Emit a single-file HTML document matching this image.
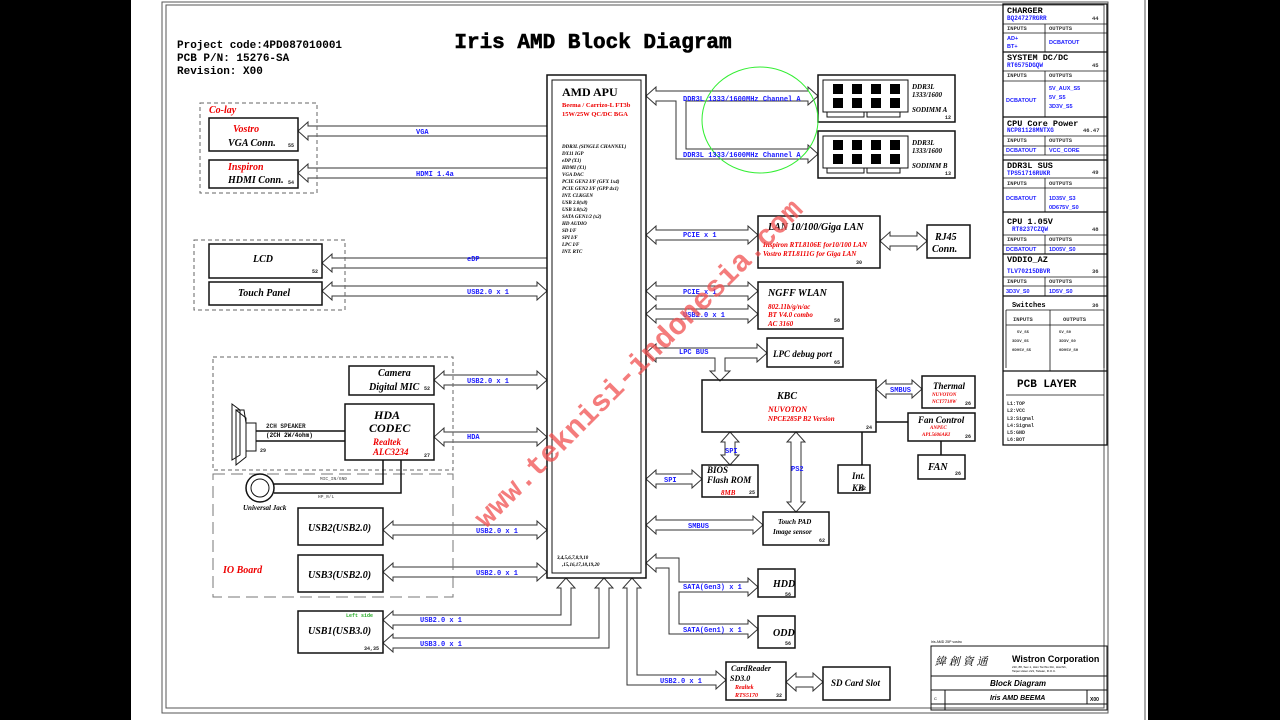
<!DOCTYPE html>
<html><head><meta charset="utf-8"><style>
html,body{margin:0;padding:0;background:#000;}
svg{display:block}
.m{font-family:"Liberation Mono",monospace;font-weight:bold}
.s{font-family:"Liberation Serif",serif;font-weight:bold;font-style:italic}
.b{fill:#1a1aff}
.r{fill:#e00}
</style></head><body>
<svg id="sv" width="1280" height="720" viewBox="0 0 1280 720" xmlns="http://www.w3.org/2000/svg">
<rect x="131" y="0" width="1017" height="720" fill="#fff"/>
<g fill="none" stroke="#555" stroke-width="1">
<rect x="162" y="2" width="946" height="711"/>
<rect x="166" y="5" width="938" height="703"/>
<line x1="1145" y1="0" x2="1145" y2="720"/>
</g>
<g id="arrows" fill="#fff" stroke="#333" stroke-width="1"></g>
<g fill="none" stroke="#111" stroke-width="1.5">
<rect x="547" y="75" width="99" height="503"/>
<rect x="552" y="80" width="89" height="493" stroke-width="1"/>
<rect x="209" y="118" width="89" height="33"/>
<rect x="209" y="160" width="89" height="28"/>
<rect x="209" y="244" width="113" height="34"/>
<rect x="209" y="282" width="113" height="23"/>
<rect x="349" y="366" width="85" height="29"/>
<rect x="345" y="404" width="89" height="56"/>
<rect x="298" y="508" width="85" height="37"/>
<rect x="298" y="555" width="85" height="37"/>
<rect x="298" y="611" width="85" height="42"/>
<rect x="818" y="75" width="137" height="47"/>
<rect x="818" y="131" width="137" height="47"/>
<rect x="758" y="216" width="122" height="52"/>
<rect x="927" y="225" width="43" height="33"/>
<rect x="758" y="282" width="85" height="47"/>
<rect x="767" y="338" width="76" height="29"/>
<rect x="702" y="380" width="174" height="52"/>
<rect x="922" y="376" width="53" height="32"/>
<rect x="908" y="413" width="67" height="28"/>
<rect x="918" y="455" width="47" height="24"/>
<rect x="838" y="465" width="32" height="28"/>
<rect x="702" y="465" width="56" height="32"/>
<rect x="763" y="512" width="66" height="33"/>
<rect x="758" y="569" width="37" height="28"/>
<rect x="758" y="616" width="37" height="32"/>
<rect x="726" y="662" width="60" height="38"/>
<rect x="823" y="667" width="67" height="33"/>
</g>
<g fill="none" stroke="#666" stroke-width="1" stroke-dasharray="4,3">
<rect x="200" y="103" width="117" height="90"/>
<rect x="194" y="240" width="151" height="70"/>
<rect x="213" y="357" width="240" height="113"/>
</g>
<rect x="213" y="474" width="240" height="123" fill="none" stroke="#777" stroke-dasharray="12,6"/>
<g stroke="#111" stroke-width="1.5" fill="none">
<polyline points="256,431 345,431"/><polyline points="256,441 345,441"/>
<polyline points="274,484 383,484 383,460"/><polyline points="274,493 401,493 401,460"/>
<line x1="876" y1="422" x2="908" y2="422"/><line x1="941" y1="441" x2="941" y2="455"/>
<line x1="862" y1="432" x2="862" y2="465"/>
<circle cx="260" cy="488" r="14"/><circle cx="260" cy="488" r="9" stroke-width="1"/>
<polygon points="232,404 240,410 240,455 232,460" stroke-width="1"/>
<polygon points="236,410 246,418 246,457 236,465" stroke-width="1"/>
<rect x="246" y="423" width="10" height="28" stroke-width="1"/>
<polyline points="236,410 244,410 246,423" stroke-width="1"/>
</g>
<g id="chips" fill="#000"></g>
<ellipse cx="760" cy="120" rx="58" ry="53" fill="none" stroke="#3e3" stroke-width="1"/>
<text x="593" y="48" text-anchor="middle" class="m" font-size="21" stroke="#000" stroke-width="0.6">Iris AMD Block Diagram</text>
<text x="177" y="48" class="m" font-size="11">Project code:4PD087010001</text>
<text x="177" y="61" class="m" font-size="11">PCB P/N: 15276-SA</text>
<text x="177" y="74" class="m" font-size="11">Revision: X00</text>
<text x="562" y="96" font-family="Liberation Serif" font-weight="bold" font-size="12">AMD APU</text>
<text x="562" y="107" font-family="Liberation Serif" font-weight="bold" font-size="6.5" class="r">Beema / Carrizo-L FT3b</text>
<text x="562" y="116" font-family="Liberation Serif" font-weight="bold" font-size="6.5" class="r">15W/25W QC/DC BGA</text>
<g class="s" font-size="5">
<text x="562" y="148">DDR3L (SINGLE CHANNEL)</text><text x="562" y="155">DX11 IGP</text><text x="562" y="162">eDP (X1)</text><text x="562" y="169">HDMI (X1)</text><text x="562" y="176">VGA DAC</text><text x="562" y="183">PCIE GEN2 I/F (GFX 1x4)</text><text x="562" y="190">PCIE GEN2 I/F (GPP 4x1)</text><text x="562" y="197">INT. CLKGEN</text><text x="562" y="204">USB 2.0(x8)</text><text x="562" y="211">USB 3.0(x2)</text><text x="562" y="218">SATA GEN1/2 (x2)</text><text x="562" y="225">HD AUDIO</text><text x="562" y="232">SD I/F</text><text x="562" y="239">SPI I/F</text><text x="562" y="246">LPC I/F</text><text x="562" y="253">INT. RTC</text>
<text x="557" y="559">3,4,5,6,7,8,9,10</text><text x="562" y="566">,15,16,17,18,19,20</text>
</g>
<g class="s" font-size="10">
<text x="209" y="113" class="r">Co-lay</text>
<text x="233" y="132" class="r">Vostro</text><text x="228" y="146">VGA Conn.</text>
<text x="228" y="170" class="r">Inspiron</text><text x="228" y="183">HDMI Conn.</text>
<text x="253" y="262">LCD</text><text x="238" y="296">Touch Panel</text>
<text x="378" y="376">Camera</text><text x="369" y="390">Digital MIC</text>
<text x="374" y="419" font-size="12">HDA</text><text x="369" y="432" font-size="12">CODEC</text>
<text x="373" y="445" font-size="9" class="r">Realtek</text><text x="373" y="455" font-size="9" class="r">ALC3234</text>
<text x="223" y="573" class="r">IO Board</text>
<text x="308" y="531">USB2(USB2.0)</text><text x="308" y="578">USB3(USB2.0)</text><text x="308" y="634">USB1(USB3.0)</text>
<text x="243" y="510" font-size="7">Universal Jack</text>
<text x="912" y="89" font-size="7">DDR3L</text><text x="912" y="97" font-size="7">1333/1600</text><text x="912" y="112" font-size="7">SODIMM A</text>
<text x="912" y="145" font-size="7">DDR3L</text><text x="912" y="153" font-size="7">1333/1600</text><text x="912" y="168" font-size="7">SODIMM B</text>
<text x="768" y="230">LAN 10/100/Giga LAN</text>
<text x="763" y="247" font-size="7" class="r">Inspiron RTL8106E for10/100 LAN</text>
<text x="763" y="256" font-size="7" class="r">Vostro RTL8111G for Giga LAN</text>
<text x="935" y="240">RJ45</text><text x="932" y="252">Conn.</text>
<text x="768" y="296">NGFF WLAN</text>
<text x="768" y="309" font-size="7" class="r">802.11b/g/n/ac</text><text x="768" y="317" font-size="7" class="r">BT V4.0 combo</text><text x="768" y="326" font-size="7" class="r">AC 3160</text>
<text x="773" y="357" font-size="9">LPC debug port</text>
<text x="777" y="399">KBC</text>
<text x="768" y="412" font-size="8" class="r">NUVOTON</text><text x="768" y="421" font-size="7" class="r">NPCE285P B2 Version</text>
<text x="933" y="389" font-size="9">Thermal</text>
<text x="932" y="396" font-size="5" class="r">NUVOTON</text><text x="932" y="403" font-size="5" class="r">NCT7718W</text>
<text x="918" y="423" font-size="9">Fan Control</text>
<text x="930" y="429" font-size="5" class="r">ANPEC</text><text x="922" y="436" font-size="5" class="r">APL5606AKI</text>
<text x="928" y="470">FAN</text>
<text x="852" y="479" font-size="9">Int.</text><text x="852" y="491" font-size="9">KB</text>
<text x="707" y="473" font-size="9">BIOS</text><text x="707" y="483" font-size="9">Flash ROM</text>
<text x="721" y="495" font-size="7" class="r">8MB</text>
<text x="778" y="524" font-size="7">Touch PAD</text><text x="773" y="534" font-size="7">Image sensor</text>
<text x="773" y="587">HDD</text><text x="773" y="636">ODD</text>
<text x="731" y="671" font-size="8">CardReader</text><text x="730" y="681" font-size="8">SD3.0</text>
<text x="735" y="689" font-size="6" class="r">Realtek</text><text x="735" y="697" font-size="6" class="r">RTS5170</text>
<text x="831" y="686" font-size="9">SD Card Slot</text>
</g>
<g class="m" font-size="5" fill="#222">
<text x="288" y="147">55</text><text x="288" y="184">54</text><text x="312" y="273">52</text>
<text x="424" y="390">52</text><text x="424" y="457">27</text><text x="260" y="452">29</text>
<text x="364" y="650">34,35</text><text x="945" y="119">12</text><text x="945" y="175">13</text>
<text x="856" y="264">30</text><text x="834" y="322">58</text><text x="834" y="364">65</text>
<text x="866" y="429">24</text><text x="965" y="405">26</text><text x="965" y="438">26</text><text x="955" y="475">26</text>
<text x="860" y="490">62</text><text x="749" y="494">25</text><text x="819" y="542">62</text>
<text x="785" y="596">56</text><text x="785" y="645">56</text><text x="776" y="697">32</text>
<text x="266" y="428" font-size="6">2CH SPEAKER</text>
<text x="320" y="480" font-size="4.5" fill="#777">MIC_IN/GND</text><text x="318" y="498" font-size="4.5" fill="#777">HP_R/L</text>
<text x="346" y="617" font-size="5" fill="#2a2">Left side</text>
</g>
<text x="266" y="437" class="m" font-size="6">(2CH 2W/4ohm)</text>
<g class="m b" font-size="7">
<text x="416" y="134">VGA</text><text x="416" y="176">HDMI 1.4a</text>
<text x="467" y="261">eDP</text><text x="467" y="294">USB2.0 x 1</text>
<text x="467" y="383">USB2.0 x 1</text><text x="467" y="439">HDA</text>
<text x="476" y="533">USB2.0 x 1</text><text x="476" y="575">USB2.0 x 1</text>
<text x="420" y="622">USB2.0 x 1</text><text x="420" y="646">USB3.0 x 1</text>
<text x="683" y="101">DDR3L 1333/1600MHz Channel A</text>
<text x="683" y="157">DDR3L 1333/1600MHz Channel A</text>
<text x="683" y="237">PCIE x 1</text><text x="683" y="294">PCIE x 1</text><text x="683" y="317">USB2.0 x 1</text>
<text x="679" y="354">LPC BUS</text><text x="890" y="392">SMBUS</text>
<text x="725" y="453">SPI</text><text x="791" y="471">PS2</text>
<text x="664" y="482">SPI</text><text x="688" y="528">SMBUS</text>
<text x="683" y="589">SATA(Gen3) x 1</text><text x="683" y="632">SATA(Gen1) x 1</text>
<text x="660" y="683">USB2.0 x 1</text>
</g>
<g fill="none" stroke="#111" stroke-width="1.3">
<rect x="1003" y="4" width="104" height="441"/>
<line x1="1003" y1="52" x2="1107" y2="52"/><line x1="1003" y1="117" x2="1107" y2="117"/>
<line x1="1003" y1="160" x2="1107" y2="160"/><line x1="1003" y1="212" x2="1107" y2="212"/>
<line x1="1003" y1="254" x2="1107" y2="254"/><line x1="1003" y1="296" x2="1107" y2="296"/>
<line x1="1003" y1="371" x2="1107" y2="371"/>
</g>
<g stroke="#111" stroke-width="0.8">
<line x1="1003" y1="24" x2="1107" y2="24"/><line x1="1003" y1="33" x2="1107" y2="33"/><line x1="1045" y1="24" x2="1045" y2="52"/>
<line x1="1003" y1="71" x2="1107" y2="71"/><line x1="1003" y1="81" x2="1107" y2="81"/><line x1="1045" y1="71" x2="1045" y2="117"/>
<line x1="1003" y1="136" x2="1107" y2="136"/><line x1="1003" y1="146" x2="1107" y2="146"/><line x1="1045" y1="136" x2="1045" y2="155"/><line x1="1003" y1="155" x2="1107" y2="155"/>
<line x1="1003" y1="178" x2="1107" y2="178"/><line x1="1003" y1="188" x2="1107" y2="188"/><line x1="1045" y1="178" x2="1045" y2="212"/>
<line x1="1003" y1="235" x2="1107" y2="235"/><line x1="1003" y1="245" x2="1107" y2="245"/><line x1="1045" y1="235" x2="1045" y2="254"/>
<line x1="1003" y1="277" x2="1107" y2="277"/><line x1="1003" y1="286" x2="1107" y2="286"/><line x1="1045" y1="277" x2="1045" y2="296"/>
<line x1="1006" y1="310" x2="1104" y2="310"/><line x1="1006" y1="325" x2="1104" y2="325"/><line x1="1050" y1="310" x2="1050" y2="371"/>
<line x1="1006" y1="310" x2="1006" y2="368"/><line x1="1104" y1="310" x2="1104" y2="368"/>
<line x1="1006" y1="395" x2="1104" y2="395"/>
</g>
<g class="m" font-size="8.5">
<text x="1007" y="13">CHARGER</text><text x="1007" y="60">SYSTEM DC/DC</text><text x="1007" y="126">CPU Core Power</text>
<text x="1007" y="168">DDR3L SUS</text><text x="1007" y="224">CPU 1.05V</text><text x="1007" y="262">VDDIO_AZ</text>
<text x="1012" y="307" font-size="7">Switches</text>
<text x="1017" y="387" font-size="11">PCB LAYER</text>
</g>
<g class="m" font-size="5.5" fill="#333">
<text x="1092" y="20">44</text><text x="1092" y="67">45</text><text x="1083" y="132">46.47</text><text x="1092" y="174">49</text><text x="1092" y="231">48</text><text x="1092" y="273">36</text><text x="1092" y="307">36</text>
<text x="1007" y="30">INPUTS</text><text x="1049" y="30">OUTPUTS</text>
<text x="1007" y="77">INPUTS</text><text x="1049" y="77">OUTPUTS</text>
<text x="1007" y="142">INPUTS</text><text x="1049" y="142">OUTPUTS</text>
<text x="1007" y="185">INPUTS</text><text x="1049" y="185">OUTPUTS</text>
<text x="1007" y="241">INPUTS</text><text x="1049" y="241">OUTPUTS</text>
<text x="1007" y="283">INPUTS</text><text x="1049" y="283">OUTPUTS</text>
<text x="1013" y="321">INPUTS</text><text x="1063" y="321">OUTPUTS</text>
<g font-size="4"><text x="1017" y="333">5V_S5</text><text x="1059" y="333">5V_S0</text><text x="1012" y="342">3D3V_S5</text><text x="1059" y="342">3D3V_S0</text><text x="1012" y="351">0D95V_S5</text><text x="1059" y="351">0D95V_S0</text></g>
<g font-size="5"><text x="1007" y="405">L1:TOP</text><text x="1007" y="412">L2:VCC</text><text x="1007" y="420">L3:Signal</text><text x="1007" y="427">L4:Signal</text><text x="1007" y="434">L5:GND</text><text x="1007" y="441">L6:BOT</text></g>
</g>
<g class="m b" font-size="6">
<text x="1007" y="20">BQ24727RGRR</text><text x="1007" y="67">RT6575DGQW</text><text x="1007" y="132">NCP81128MNTXG</text>
<text x="1007" y="175">TPS51716RUKR</text><text x="1012" y="231">RT8237CZQW</text><text x="1007" y="273">TLV70215DBVR</text>
</g>
<g font-family="Liberation Sans" font-weight="bold" font-size="5.5" class="b">
<text x="1007" y="40">AD+</text><text x="1007" y="48">BT+</text><text x="1049" y="44">DCBATOUT</text>
<text x="1006" y="102">DCBATOUT</text><text x="1049" y="90">5V_AUX_S5</text><text x="1049" y="99">5V_S5</text><text x="1049" y="108">3D3V_S5</text>
<text x="1006" y="152">DCBATOUT</text><text x="1049" y="152">VCC_CORE</text>
<text x="1006" y="200">DCBATOUT</text><text x="1049" y="200">1D35V_S3</text><text x="1049" y="209">0D675V_S0</text>
<text x="1006" y="251">DCBATOUT</text><text x="1049" y="251">1D05V_S0</text>
<text x="1006" y="293">3D3V_S0</text><text x="1049" y="293">1D5V_S0</text>
</g>
<g fill="none" stroke="#111" stroke-width="1">
<rect x="931" y="646" width="176" height="64"/>
<line x1="931" y1="676" x2="1107" y2="676"/><line x1="931" y1="690" x2="1107" y2="690"/>
<line x1="931" y1="704" x2="1107" y2="704"/><line x1="945" y1="690" x2="945" y2="710"/><line x1="1087" y1="690" x2="1087" y2="704"/>
</g>
<text x="931" y="643" font-family="Liberation Sans" font-size="3.5">Iris AMD 25P vostro</text>
<text x="935" y="665" font-family="Noto Serif CJK SC,serif" font-style="italic" font-size="11">緯 創 資 通</text>
<text x="1012" y="662" font-family="Liberation Sans" font-weight="bold" font-size="9">Wistron Corporation</text>
<text x="1012" y="668" font-family="Liberation Sans" font-size="3">21F, 88, Sec.1, Hsin Tai Wu Rd., Hsichih,</text>
<text x="1012" y="672" font-family="Liberation Sans" font-size="3">Taipei Hsien 221, Taiwan, R.O.C.</text>
<text x="990" y="686" font-family="Liberation Sans" font-weight="bold" font-style="italic" font-size="8">Block Diagram</text>
<text x="990" y="700" font-family="Liberation Sans" font-weight="bold" font-style="italic" font-size="7">Iris  AMD BEEMA</text>
<text x="1090" y="701" font-family="Liberation Sans" font-weight="bold" font-size="5">X00</text>
<text x="934" y="700" font-family="Liberation Sans" font-size="4">C</text>
<text transform="translate(645,370) rotate(-45)" text-anchor="middle" font-family="Liberation Mono" font-weight="bold" font-size="30" fill="#f05050" fill-opacity="0.75">www.teknisi-indonesia.com</text>
</svg>
<script>
var g=document.getElementById('arrows'),ns='http://www.w3.org/2000/svg';
function P(pts){var p=document.createElementNS(ns,'polygon');p.setAttribute('points',pts.map(function(a){return a.join(',')}).join(' '));g.appendChild(p);}
var L=10,H=9,h=5;
function dh(x1,x2,y){P([[x1,y],[x1+L,y-H],[x1+L,y-h],[x2-L,y-h],[x2-L,y-H],[x2,y],[x2-L,y+H],[x2-L,y+h],[x1+L,y+h],[x1+L,y+H]]);}
function lh(x1,x2,y){P([[x1,y],[x1+L,y-H],[x1+L,y-h],[x2,y-h],[x2,y+h],[x1+L,y+h],[x1+L,y+H]]);}
function dv(x,y1,y2){P([[x,y1],[x+H,y1+L],[x+h,y1+L],[x+h,y2-L],[x+H,y2-L],[x,y2],[x-H,y2-L],[x-h,y2-L],[x-h,y1+L],[x-H,y1+L]]);}
lh(298,547,131);lh(298,547,173);lh(322,547,263);dh(322,547,291);
dh(434,547,380);dh(434,547,437);dh(383,547,530);dh(383,547,572);
P([[383,620],[393,611],[393,615],[561,615],[561,588],[557,588],[566,578],[575,588],[571,588],[571,625],[393,625],[393,629]]);
P([[383,643],[393,634],[393,638],[599,638],[599,588],[595,588],[604,578],[613,588],[609,588],[609,648],[393,648],[393,652]]);
P([[646,96],[656,87],[656,91],[808,91],[808,87],[818,96],[808,105],[808,101],[686,101],[686,149],[808,149],[808,145],[818,154],[808,163],[808,159],[676,159],[676,101],[656,101],[656,105]]);
dh(646,758,235);dh(880,927,241);dh(646,758,291);dh(646,758,314);
P([[646,353],[656,344],[656,348],[757,348],[757,344],[767,353],[757,362],[757,358],[725,358],[725,371],[730,371],[720,381],[710,371],[715,371],[715,358],[656,358],[656,362]]);
dh(876,922,389);dv(730,432,465);dv(796,432,512);dh(646,702,479);dh(646,763,525);
P([[646,563],[656,554],[656,558],[679,558],[679,582],[748,582],[748,578],[758,587],[748,596],[748,592],[679,592],[679,624],[748,624],[748,620],[758,629],[748,638],[748,634],[669,634],[669,568],[656,568],[656,572]]);
P([[632,578],[641,588],[637,588],[637,675],[716,675],[716,671],[726,680],[716,689],[716,685],[627,685],[627,588],[623,588]]);
dh(786,823,682);
var c=document.getElementById('chips');
[[75],[131]].forEach(function(r){var y0=r[0];
var fr=document.createElementNS(ns,'rect');fr.setAttribute('x',823);fr.setAttribute('y',y0+5);fr.setAttribute('width',85);fr.setAttribute('height',32);fr.setAttribute('fill','none');fr.setAttribute('stroke','#111');g.parentNode.appendChild(fr);
for(var i=0;i<4;i++)for(var j=0;j<2;j++){var q=document.createElementNS(ns,'rect');q.setAttribute('x',833+i*19);q.setAttribute('y',y0+9+j*14);q.setAttribute('width',10);q.setAttribute('height',10);c.appendChild(q);}
[[827,37],[867,33]].forEach(function(t){var s=document.createElementNS(ns,'rect');s.setAttribute('x',t[0]);s.setAttribute('y',y0+37);s.setAttribute('width',t[1]);s.setAttribute('height',5);s.setAttribute('fill','none');s.setAttribute('stroke','#111');g.parentNode.appendChild(s);});
});
</script>
</body></html>
